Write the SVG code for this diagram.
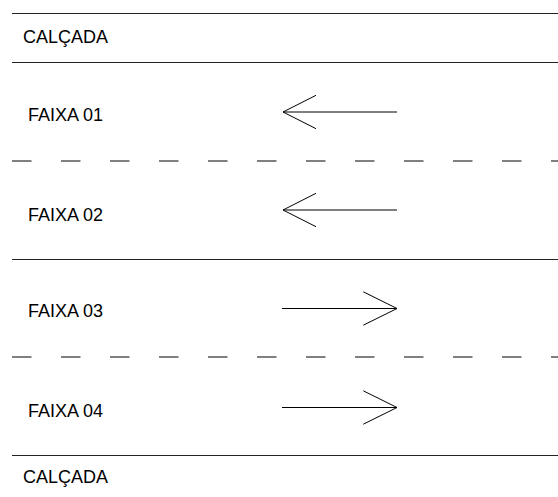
<svg xmlns="http://www.w3.org/2000/svg" width="558" height="497" viewBox="0 0 558 497">
<style>
.bg{fill:#fff}
.edge{stroke:#222;stroke-width:1;fill:none}
.dash{stroke:#000;stroke-width:1;stroke-dasharray:19.5 29.5;fill:none}
.arr{stroke:#000;stroke-width:1;fill:none}
text{font-family:"Liberation Sans",Arial,sans-serif;font-size:18px;fill:#000}
</style>
<rect class="bg" width="558" height="497"/>
<g id="lines">
<line class="edge" x1="12" y1="13.5" x2="558" y2="13.5"/>
<line class="edge" x1="12" y1="62.5" x2="558" y2="62.5"/>
<line class="dash" x1="12" y1="161" x2="558" y2="161"/>
<line class="edge" x1="12" y1="259.5" x2="558" y2="259.5"/>
<line class="dash" x1="12" y1="357" x2="558" y2="357"/>
<line class="edge" x1="12" y1="455.5" x2="558" y2="455.5"/>
</g>
<g id="calcada-top"><text x="23" y="42.5">CALÇADA</text></g>
<g id="faixa01"><text x="28" y="120.5">FAIXA 01</text></g>
<g id="faixa02"><text x="28" y="220.5">FAIXA 02</text></g>
<g id="faixa03"><text x="28" y="316.5">FAIXA 03</text></g>
<g id="faixa04"><text x="28" y="416.5">FAIXA 04</text></g>
<g id="calcada-bottom"><text x="23" y="482.5">CALÇADA</text></g>
<g id="connectors">
<path class="arr" d="M397 112H283M316 95.3L283 112L316 128.7"/>
<path class="arr" d="M397 210H283M316 193.3L283 210L316 226.7"/>
<path class="arr" d="M282 308.5H397M363.3 291.8L397 308.5L363.3 325.2"/>
<path class="arr" d="M282 407.5H397M363.3 390.8L397 407.5L363.3 424.2"/>
</g>
</svg>
